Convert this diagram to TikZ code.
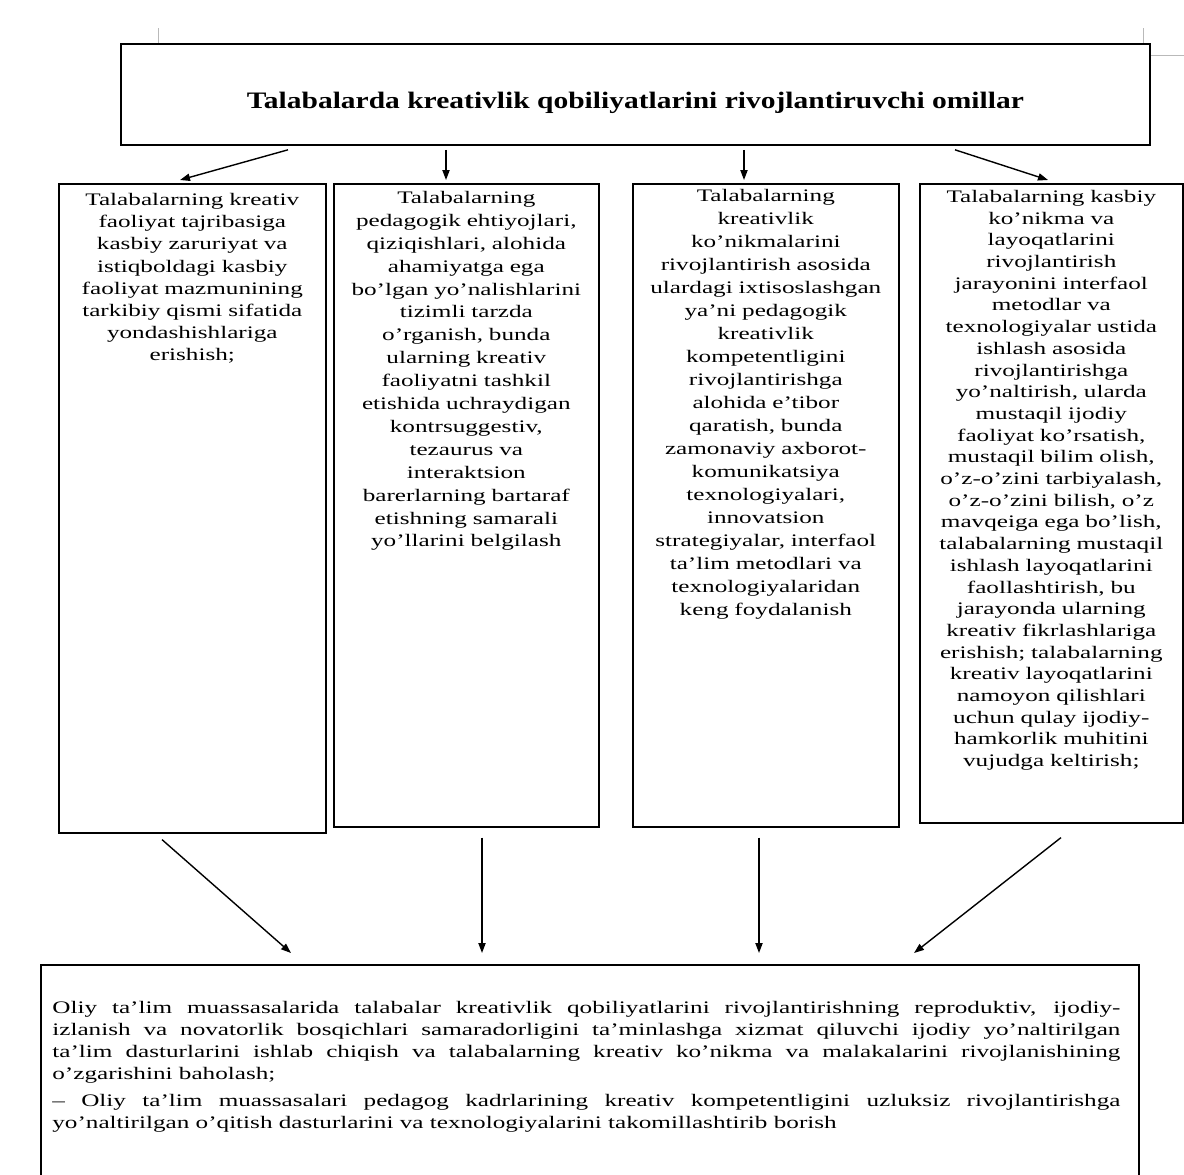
\documentclass[tikz,border=0pt]{standalone}
\usepackage{fontspec}
\setmainfont{Liberation Serif}
\newfontfamily\boxfont[FakeStretch=1.43]{Liberation Serif}
\newfontfamily\ttlfont[FakeStretch=1.25]{Liberation Serif}
\newfontfamily\botfont[FakeStretch=1.43]{Liberation Serif}
\usetikzlibrary{arrows.meta,calc}
\begin{document}
\begin{tikzpicture}[x=0.5pt,y=-0.5pt,
  box/.style={draw, line width=0.8pt, inner sep=0pt, anchor=north west},
  txt/.style={inner sep=0pt, anchor=north, align=center, text width=140pt},
  arr/.style={line width=0.7pt, -{Triangle[length=5pt,width=3.6pt]}},
  crop/.style={gray!55, line width=0.4pt}]
\useasboundingbox (0,0) rectangle (1184,1174);
\fill[white] (0,0) rectangle (1184,1174);

% crop marks
\draw[crop] (158,28) -- (158,43);
\draw[crop] (1143,28) -- (1143,43);
\draw[crop] (1149,55) -- (1184,55);

% top box
\node[box, line width=0.9pt, minimum width=514.5pt, minimum height=50.5pt] (top) at (120,43) {};
\node[inner sep=0pt, anchor=base, font=\ttlfont\bfseries\fontsize{11.8}{14}\selectfont] (ttl) at ($(top.north)+(0,65)$) {Talabalarda kreativlik qobiliyatlarini rivojlantiruvchi omillar};

% four boxes
\node[box, minimum width=133.5pt, minimum height=324.5pt] (b1) at (58,183) {};
\node[box, minimum width=132.5pt, minimum height=321.5pt] (b2) at (333,183) {};
\node[box, minimum width=133pt, minimum height=321.5pt] (b3) at (632,183) {};
\node[box, minimum width=131.5pt, minimum height=319.5pt] (b4) at (919,183) {};

\node[txt, font=\boxfont\fontsize{8.8}{11.1}\selectfont] (t1) at (b1.north) {\rule{0pt}{11pt}Talabalarning kreativ\\faoliyat tajribasiga\\kasbiy zaruriyat va\\istiqboldagi kasbiy\\faoliyat mazmunining\\tarkibiy qismi sifatida\\yondashishlariga\\erishish;};

\node[txt, font=\boxfont\fontsize{8.8}{11.45}\selectfont] (t2) at (b2.north) {\rule{0pt}{10pt}Talabalarning\\pedagogik ehtiyojlari,\\qiziqishlari, alohida\\ahamiyatga ega\\bo’lgan yo’nalishlarini\\tizimli tarzda\\o’rganish, bunda\\ularning kreativ\\faoliyatni tashkil\\etishida uchraydigan\\kontrsuggestiv,\\tezaurus va\\interaktsion\\barerlarning bartaraf\\etishning samarali\\yo’llarini belgilash};

\node[txt, font=\boxfont\fontsize{8.8}{11.5}\selectfont] (t3) at (b3.north) {\rule{0pt}{9pt}Talabalarning\\kreativlik\\ko’nikmalarini\\rivojlantirish asosida\\ulardagi ixtisoslashgan\\ya’ni pedagogik\\kreativlik\\kompetentligini\\rivojlantirishga\\alohida e’tibor\\qaratish, bunda\\zamonaviy axborot-\\komunikatsiya\\texnologiyalari,\\innovatsion\\strategiyalar, interfaol\\ta’lim metodlari va\\texnologiyalaridan\\keng foydalanish};

\node[txt, font=\boxfont\fontsize{8.8}{10.85}\selectfont] (t4) at (b4.north) {\rule{0pt}{9.5pt}Talabalarning kasbiy\\ko’nikma va\\layoqatlarini\\rivojlantirish\\jarayonini interfaol\\metodlar va\\texnologiyalar ustida\\ishlash asosida\\rivojlantirishga\\yo’naltirish, ularda\\mustaqil ijodiy\\faoliyat ko’rsatish,\\mustaqil bilim olish,\\o’z-o’zini tarbiyalash,\\o’z-o’zini bilish, o’z\\mavqeiga ega bo’lish,\\talabalarning mustaqil\\ishlash layoqatlarini\\faollashtirish, bu\\jarayonda ularning\\kreativ fikrlashlariga\\erishish; talabalarning\\kreativ layoqatlarini\\namoyon qilishlari\\uchun qulay ijodiy-\\hamkorlik muhitini\\vujudga keltirish;};

% bottom box
\node[box, minimum width=549pt, minimum height=130pt] (bot) at (40,964) {};
\node[inner sep=0pt, anchor=north west, text width=534pt, align=justify, font=\botfont\fontsize{8.8}{11}\selectfont] (bt) at ($(bot.north west)+(12,33)$) {\rule{0pt}{8pt}Oliy ta’lim muassasalarida talabalar kreativlik qobiliyatlarini rivojlantirishning reproduktiv, ijodiy-\linebreak izlanish va novatorlik bosqichlari samaradorligini ta’minlashga xizmat qiluvchi ijodiy yo’naltirilgan\linebreak ta’lim dasturlarini ishlab chiqish va talabalarning kreativ ko’nikma va malakalarini rivojlanishining\linebreak o’zgarishini baholash;\par\vspace{2.5pt}
– Oliy ta’lim muassasalari pedagog kadrlarining kreativ kompetentligini uzluksiz rivojlantirishga\linebreak yo’naltirilgan o’qitish dasturlarini va texnologiyalarini takomillashtirib borish\par};

% arrows top -> boxes
\draw[arr] ($(top.south west)+(168,4)$) -- ($(b1.north west)+(122,-3)$);
\draw[arr] ($(top.south west)+(326,4)$) -- ($(b2.north west)+(113,-3)$);
\draw[arr] ($(top.south west)+(624,4)$) -- ($(b3.north west)+(112,-3)$);
\draw[arr] ($(top.south west)+(835,4)$) -- ($(b4.north west)+(129,-3)$);

% arrows boxes -> bottom
\draw[arr] ($(b1.south west)+(104,6)$) -- ($(bot.north west)+(251,-11)$);
\draw[arr] ($(b2.south west)+(149,10)$) -- ($(bot.north west)+(442,-11)$);
\draw[arr] ($(b3.south west)+(127,10)$) -- ($(bot.north west)+(719,-11)$);
\draw[arr] ($(b4.south west)+(142,14)$) -- ($(bot.north west)+(874,-11)$);
\end{tikzpicture}
\end{document}
